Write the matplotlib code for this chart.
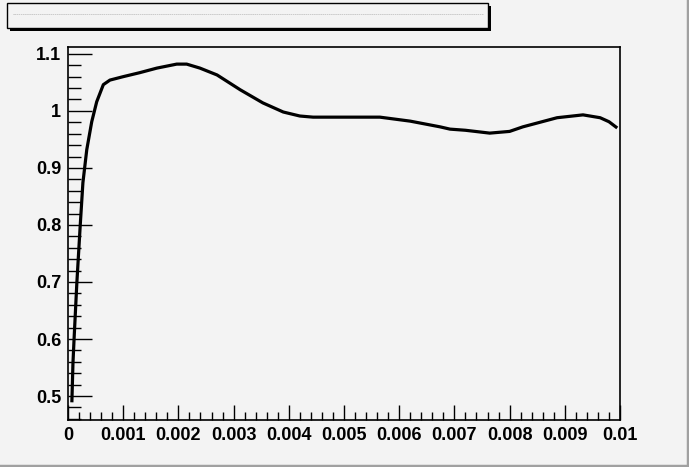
import matplotlib
matplotlib.use("Agg")
import matplotlib.pyplot as plt
from matplotlib.patches import Rectangle
from matplotlib.lines import Line2D
from matplotlib.ticker import MultipleLocator, FixedFormatter, FixedLocator
from matplotlib.font_manager import FontProperties

x_vals = [0.00007, 0.00009, 0.00011, 0.00016, 0.00022, 0.00027, 0.00034, 0.00043,
          0.00052, 0.00064, 0.00076, 0.0010, 0.0013, 0.00161, 0.00197, 0.00215,
          0.00239, 0.0027, 0.00312, 0.00353, 0.0039, 0.0042, 0.00444, 0.0050,
          0.00565, 0.0062, 0.00674, 0.00692, 0.0072, 0.00764, 0.0080, 0.00824,
          0.00886, 0.00933, 0.00964, 0.0098, 0.00995]
y_vals = [0.489, 0.558, 0.600, 0.698, 0.797, 0.874, 0.932, 0.981,
          1.016, 1.046, 1.054, 1.060, 1.067, 1.075, 1.082, 1.082,
          1.075, 1.063, 1.037, 1.014, 0.998, 0.991, 0.989, 0.989,
          0.989, 0.982, 0.972, 0.968, 0.966, 0.961, 0.964, 0.972,
          0.988, 0.993, 0.988, 0.981, 0.970]

x_ticks = [0, 0.001, 0.002, 0.003, 0.004, 0.005, 0.006, 0.007, 0.008, 0.009, 0.01]
x_tick_labels = ["0", "0.001", "0.002", "0.003", "0.004", "0.005", "0.006",
                 "0.007", "0.008", "0.009", "0.01"]
y_ticks = [0.5, 0.6, 0.7, 0.8, 0.9, 1.0, 1.1]
y_tick_labels = ["0.5", "0.6", "0.7", "0.8", "0.9", "1", "1.1"]
title_text = "-" * 222

W, H = 689, 467
bg = "#f3f3f3"
fig = plt.figure(figsize=(W / 100, H / 100), dpi=100, facecolor=bg)
ax = fig.add_axes([68 / W, (H - 420) / H, (620 - 68) / W, (420 - 47) / H])
ax.set_facecolor(bg)
ax.plot(x_vals, y_vals, color="black", lw=2.3, solid_joinstyle="round",
        solid_capstyle="butt")
ax.set_xlim(0, 0.01)
ax.set_ylim(0.458, 1.112)

ax.xaxis.set_major_locator(FixedLocator(x_ticks))
ax.xaxis.set_major_formatter(FixedFormatter(x_tick_labels))
ax.xaxis.set_minor_locator(MultipleLocator(0.0002))
ax.yaxis.set_major_locator(FixedLocator(y_ticks))
ax.yaxis.set_major_formatter(FixedFormatter(y_tick_labels))
ax.yaxis.set_minor_locator(MultipleLocator(0.02))

fp = FontProperties(family="Liberation Sans", weight="bold", size=13)
for lab in ax.get_xticklabels() + ax.get_yticklabels():
    lab.set_fontproperties(fp)

ax.tick_params(axis="y", which="major", direction="in", length=17, width=1, pad=5,
               right=False, left=True)
ax.tick_params(axis="y", which="minor", direction="in", length=9, width=1,
               right=False, left=True)
ax.tick_params(axis="x", which="major", direction="in", length=11, width=1, pad=5,
               top=False, bottom=True)
ax.tick_params(axis="x", which="minor", direction="in", length=5.5, width=1,
               top=False, bottom=True)
for s in ax.spines.values():
    s.set_linewidth(1.2)
    s.set_color("black")

# title box with shadow
fig.patches.append(Rectangle((10 / W, (H - 31) / H), (491 - 10) / W, 25 / H,
                             transform=fig.transFigure, facecolor="black",
                             edgecolor="none", zorder=1))
fig.patches.append(Rectangle((7 / W, (H - 28) / H), (488 - 7) / W, 25 / H,
                             transform=fig.transFigure, facecolor=bg,
                             edgecolor="black", lw=1, zorder=2))
fig.text(13 / W, (H - 15) / H, title_text, fontsize=4.3, color="#9a9a9a",
         va="center", ha="left", zorder=3)

# canvas bevel
fig.lines.append(Line2D([0, 1], [1.5 / H, 1.5 / H], transform=fig.transFigure,
                        color="#a0a0a0", lw=2.5))
fig.lines.append(Line2D([1 - 1.5 / W, 1 - 1.5 / W], [0, 1], transform=fig.transFigure,
                        color="#a0a0a0", lw=2.5))

fig.savefig("out.png", dpi=100, facecolor=bg)
